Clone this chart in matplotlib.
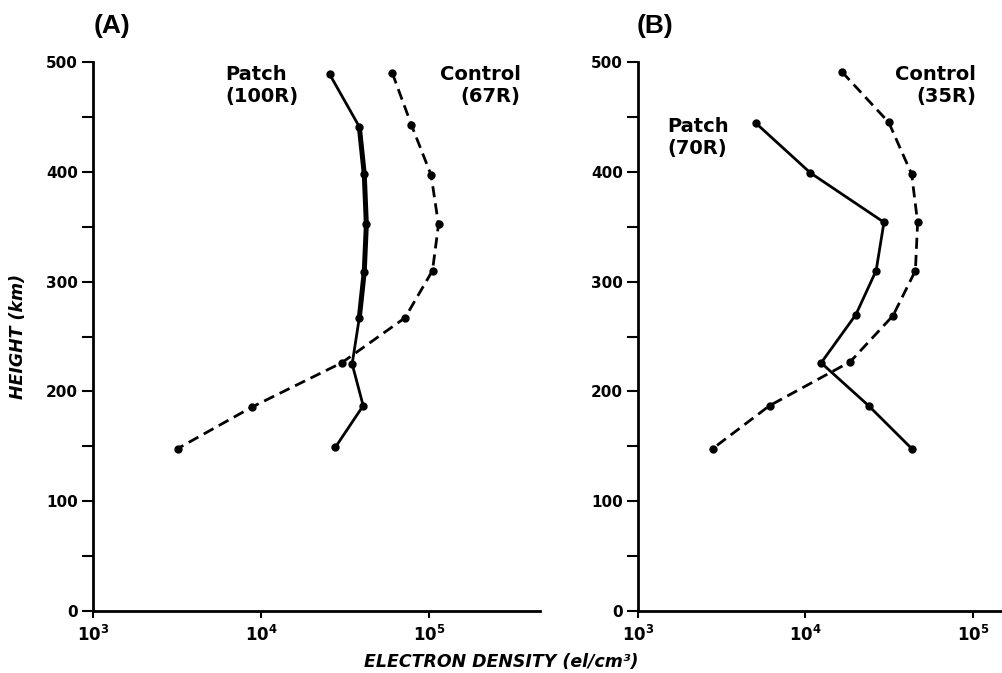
import matplotlib
matplotlib.use("Agg")
import matplotlib.pyplot as plt
from matplotlib.ticker import FixedLocator, NullLocator

# Electron density profiles (el/cm^3) versus height (km)
heights_patch_a = [489, 441, 398, 352, 309, 267, 225, 187, 149]
density_patch_a = [2.56e4, 3.85e4, 4.12e4, 4.24e4, 4.12e4, 3.85e4, 3.49e4, 4.06e4, 2.77e4]
heights_control_a = [490, 443, 397, 352, 310, 267, 226, 186, 148]
density_control_a = [6.05e4, 7.85e4, 1.03e5, 1.14e5, 1.05e5, 7.2e4, 3.02e4, 8.9e3, 3.2e3]

heights_patch_b = [444, 399, 354, 310, 270, 226, 187, 148]
density_patch_b = [5.08e3, 1.07e4, 2.94e4, 2.64e4, 2.0e4, 1.24e4, 2.38e4, 4.3e4]
heights_control_b = [491, 445, 398, 354, 310, 269, 227, 187, 148]
density_control_b = [1.65e4, 3.14e4, 4.3e4, 4.67e4, 4.53e4, 3.33e4, 1.85e4, 6.1e3, 2.8e3]

panel_titles = ["(A)", "(B)"]
patch_labels = ["Patch\n(100R)", "Patch\n(70R)"]
control_labels = ["Control\n(67R)", "Control\n(35R)"]

x_ticks = [1e3, 1e4, 1e5]
x_tick_labels = [r"$\mathbf{10^{3}}$", r"$\mathbf{10^{4}}$", r"$\mathbf{10^{5}}$"]
y_major = [0, 100, 200, 300, 400, 500]
y_minor = [50, 150, 250, 350, 450]

plt.rcParams["font.family"] = ["DejaVu Sans"]
plt.rcParams["font.weight"] = "bold"
plt.rcParams["mathtext.fontset"] = "dejavusans"

fig = plt.figure(figsize=(10.02, 6.73), dpi=100)
ax_a = fig.add_axes([0.0928, 0.0921, 0.4461, 0.8158])
ax_b = fig.add_axes([0.6367, 0.0921, 0.3633, 0.8158])


def style_axes(ax, xmax):
    ax.set_xscale("log")
    ax.set_xlim(1e3, xmax)
    ax.set_ylim(0, 500)
    for side in ("top", "right"):
        ax.spines[side].set_visible(False)
    for side in ("left", "bottom"):
        ax.spines[side].set_linewidth(2)
    ax.xaxis.set_major_locator(FixedLocator(x_ticks))
    ax.xaxis.set_minor_locator(NullLocator())
    ax.set_xticklabels(x_tick_labels)
    ax.yaxis.set_major_locator(FixedLocator(y_major))
    ax.yaxis.set_minor_locator(FixedLocator(y_minor))
    ax.tick_params(axis="y", which="both", direction="out", length=8,
                   width=1.5, pad=3, labelsize=11)
    ax.tick_params(axis="x", which="major", direction="out", length=5,
                   width=1.5, pad=5, labelsize=12)
    ax.patch.set_alpha(0)


style_axes(ax_a, 10 ** 5.661)
style_axes(ax_b, 10 ** 5.173)

line_kw = dict(color="black", marker="o", markersize=5, clip_on=False)
dash = (0, (4, 2.2))

# Panel A
ax_a.plot(density_patch_a, heights_patch_a, lw=2.0, **line_kw)
ax_a.plot(density_patch_a[1:6], heights_patch_a[1:6], lw=3.6,
          color="black", solid_capstyle="round")
ax_a.plot(density_control_a, heights_control_a, lw=2.0,
          linestyle=dash, **line_kw)

# Panel B
ax_b.plot(density_patch_b, heights_patch_b, lw=2.0, **line_kw)
ax_b.plot(density_control_b, heights_control_b, lw=2.0,
          linestyle=dash, **line_kw)

label_kw = dict(fontsize=14, fontweight="bold", linespacing=1.2, va="top")
ax_a.text(10 ** 3.79, 497, patch_labels[0], ha="left", **label_kw)
ax_a.text(10 ** 5.545, 497, control_labels[0], ha="right",
          multialignment="right", **label_kw)
ax_b.text(10 ** 3.173, 450, patch_labels[1], ha="left", **label_kw)
ax_b.text(10 ** 5.02, 497, control_labels[1], ha="right",
          multialignment="right", **label_kw)

title_kw = dict(fontsize=19, fontweight="bold", family="Liberation Sans",
                va="top", ha="left")
fig.text(94 / 1002, 1 - 14 / 673, panel_titles[0], **title_kw)
fig.text(637 / 1002, 1 - 14 / 673, panel_titles[1], **title_kw)

axis_label_kw = dict(fontsize=12.5, fontweight="bold", style="italic")
fig.text(18 / 1002, 1 - 336 / 673, "HEIGHT (km)", rotation=90,
         ha="center", va="center", **axis_label_kw)
fig.text(501 / 1002, 1 - 662 / 673, "ELECTRON DENSITY (el/cm³)",
         ha="center", va="center", **axis_label_kw)

fig.savefig("out.png", dpi=100)
